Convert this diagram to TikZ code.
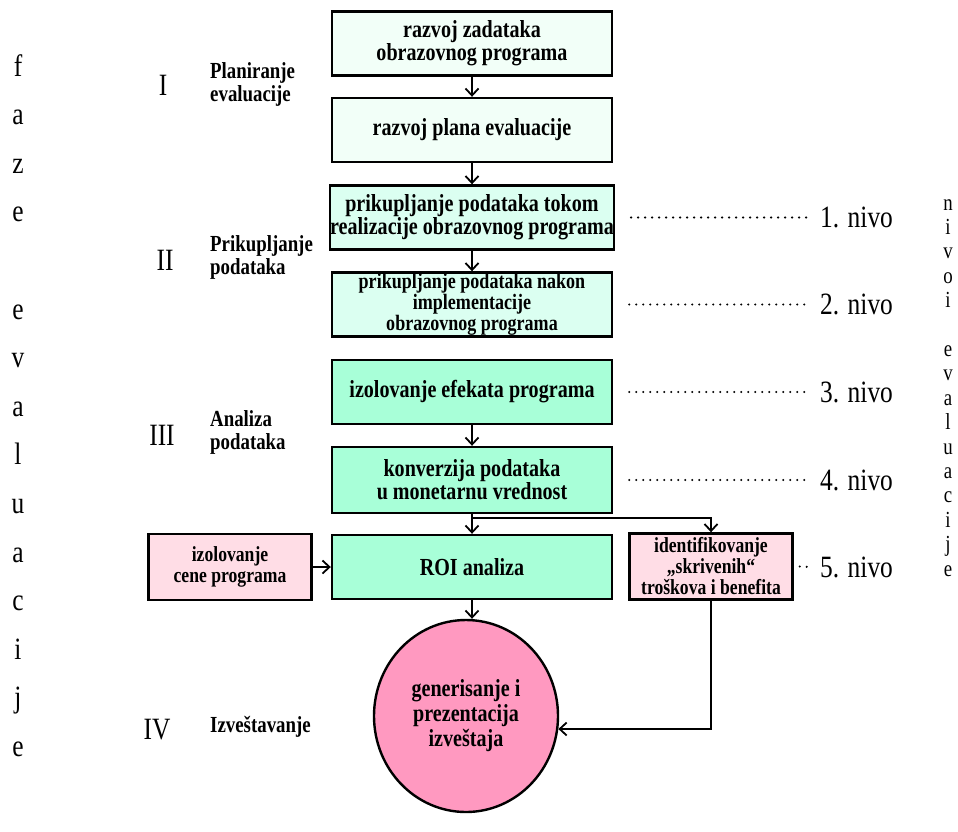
\documentclass[tikz,border=0pt]{standalone}
\usepackage{fontspec}
\setmainfont{Liberation Serif}[FakeStretch=0.82]
\usetikzlibrary{arrows.meta,shapes.geometric,calc}
\definecolor{cPale}{HTML}{F2FFF8}
\definecolor{cLight}{HTML}{DBFFF1}
\definecolor{cMint}{HTML}{A8FFD8}
\definecolor{cPink}{HTML}{FFDDE6}
\definecolor{cRose}{HTML}{FF99C0}
\begin{document}
\begin{tikzpicture}[x=1pt,y=-1pt,
  box/.style={draw=black, line width=2.4pt, minimum width=280pt, minimum height=64pt,
    inner sep=0pt, align=center, font=\fontsize{24.5}{23}\selectfont\bfseries},
  smallbox/.style={draw=black, line width=2.4pt, minimum width=163pt, minimum height=66pt,
    inner sep=0pt, align=center, fill=cPink, font=\fontsize{21.5}{21}\selectfont\bfseries},
  arr/.style={line width=1.8pt, -{Straight Barb[length=7pt,width=13pt,line width=1.8pt]}},
  conn/.style={line width=1.8pt},
  dots/.style={line width=2.3pt, line cap=round, dash pattern=on 0pt off 7pt},
  phase/.style={anchor=west, align=left, inner sep=0pt, font=\fontsize{23}{23}\selectfont\bfseries},
  roman/.style={inner sep=0pt, font=\fontsize{31}{31}\selectfont},
  lvl/.style={anchor=west, inner sep=0pt, font=\fontsize{31}{31}\selectfont},
  vletL/.style={anchor=base, inner sep=0pt, font=\fontsize{31}{31}\selectfont},
  vletR/.style={anchor=base, inner sep=0pt, font=\fontsize{23}{23}\selectfont}]
\useasboundingbox (0,0) rectangle (958,831);

% main column
\node[box, fill=cPale] (b1) at (472,43.5) {razvoj zadataka\\obrazovnog programa};
\node[box, fill=cPale] (b2) at (472,130) {razvoj plana evaluacije};
\node[box, fill=cLight] (b3) at (472,217.5) {prikupljanje podataka tokom\\realizacije obrazovnog programa};
\node[box, fill=cLight, font=\fontsize{22}{21}\selectfont\bfseries] (b4) at (472,304.5) {prikupljanje podataka nakon\\implementacije\\obrazovnog programa};
\node[box, fill=cMint] (b5) at (472,392) {izolovanje efekata programa};
\node[box, fill=cMint, minimum height=66pt] (b6) at (472,480) {konverzija podataka\\u monetarnu vrednost};
\node[box, fill=cMint] (b7) at (472,567) {ROI analiza};
\node[smallbox] (pl) at (230,567) {izolovanje\\cene programa};
\node[smallbox] (pr) at (711,566.5) {identifikovanje\\„skrivenih“\\troškova i benefita};
\node[ellipse, draw=black, line width=2.4pt, fill=cRose, minimum width=184pt, minimum height=192pt,
  inner sep=0pt, align=center, font=\fontsize{24.5}{25}\selectfont\bfseries] (circ) at (466,716)
  {generisanje i\\prezentacija\\izveštaja};

% connectors
\draw[arr] (b1) -- (b2);
\draw[arr] (b2) -- (b3);
\draw[arr] (b3) -- (b4);
\draw[arr] (b5) -- (b6);
\coordinate (jn) at (472,518);
\draw[conn] (b6.south) -- (jn);
\draw[arr] (jn) -- (b7.north);
\draw[arr] (jn) -| (pr.north);
\draw[arr] (pl) -- (b7);
\draw[arr] (b7.south) -- (b7.south |- circ.north);
\draw[arr] (pr.south) |- (circ.-8);

% levels
\node[lvl] (l1) at (820,217.5) {1. nivo};
\node[lvl] (l2) at (820,304.5) {2. nivo};
\node[lvl] (l3) at (820,392) {3. nivo};
\node[lvl] (l4) at (820,480) {4. nivo};
\node[lvl] (l5) at (820,567) {5. nivo};
\draw[dots] ($(b3.east)+(16,0)$) -- ($(l1.west)+(-10,0)$);
\draw[dots] ($(b4.east)+(16,0)$) -- ($(l2.west)+(-10,0)$);
\draw[dots] ($(b5.east)+(16,0)$) -- ($(l3.west)+(-10,0)$);
\draw[dots] ($(b6.east)+(16,0)$) -- ($(l4.west)+(-10,0)$);
\draw[dots] ($(pr.east)+(6,0)$) -- ($(l5.west)+(-10,0)$);

% phases
\node[roman] (r1) at (163,85) {I};
\node[phase] (p1) at (210,84) {Planiranje\\evaluacije};
\node[roman] (r2) at (165,260) {II};
\node[phase] (p2) at (210,257) {Prikupljanje\\podataka};
\node[roman] (r3) at (162,435) {III};
\node[phase] (p3) at (210,432) {Analiza\\podataka};
\node[roman] (r4) at (157,730) {IV};
\node[phase] (p4) at (210,727) {Izveštavanje};

% vertical left text
\foreach \ch/\k in {f/0,a/1,z/2,e/3,e/5,v/6,a/7,l/8,u/9,a/10,c/11,i/12,j/13,e/14}{
  \node[vletL] (fz\k) at (18,{76+48.6*\k}) {\ch};
}
% vertical right text
\foreach \ch/\k in {n/0,i/1,v/2,o/3,i/4,e/6,v/7,a/8,l/9,u/10,a/11,c/12,i/13,j/14,e/15}{
  \node[vletR] (nv\k) at (948,{210+24.4*\k}) {\ch};
}
\end{tikzpicture}
\end{document}
